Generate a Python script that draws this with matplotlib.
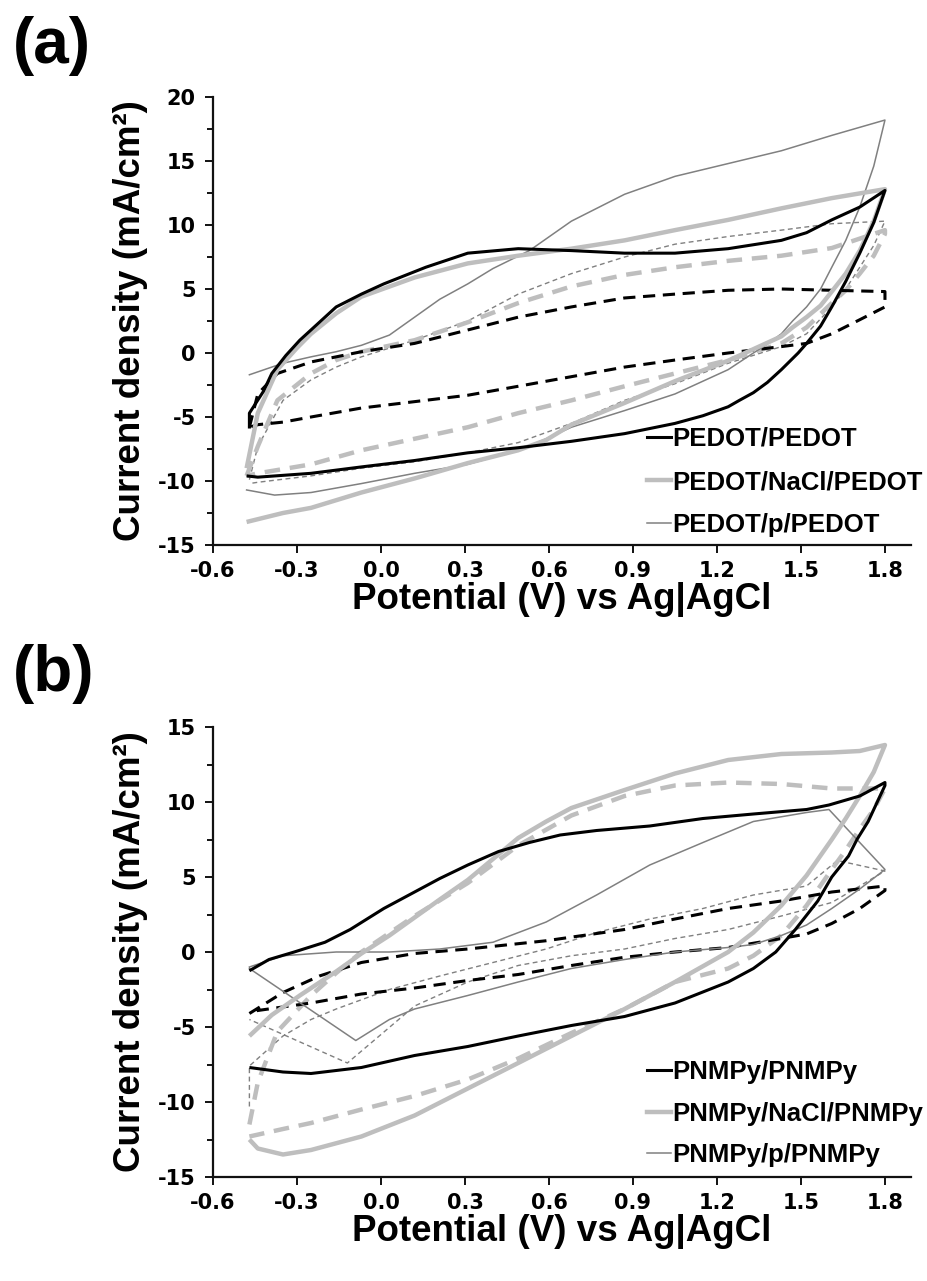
import matplotlib
matplotlib.use("Agg")
import matplotlib.pyplot as plt
from matplotlib.ticker import MultipleLocator, FixedLocator
from matplotlib.lines import Line2D

plt.rcParams['font.family'] = ['Liberation Sans', 'DejaVu Sans']
plt.rcParams['font.weight'] = 'bold'
plt.rcParams['axes.unicode_minus'] = False

# ---------------- Panel (a) data : PEDOT ----------------
a_pp_up_V = [-0.47, -0.47, -0.42, -0.39, -0.34, -0.29, -0.22, -0.16, -0.07, 0.01, 0.16, 0.31, 0.49, 0.68, 0.87, 1.05, 1.24, 1.43, 1.52, 1.61, 1.71, 1.80]
a_pp_up_I = [-5.9, -4.7, -3.0, -1.6, -0.2, 1.0, 2.4, 3.6, 4.6, 5.4, 6.7, 7.8, 8.15, 8.0, 7.8, 7.8, 8.15, 8.8, 9.4, 10.4, 11.4, 12.7]
a_pp_lo_V = [1.80, 1.76, 1.71, 1.66, 1.61, 1.57, 1.52, 1.49, 1.43, 1.38, 1.33, 1.28, 1.24, 1.15, 1.05, 0.87, 0.68, 0.49, 0.31, 0.12, -0.07, -0.25, -0.44, -0.48]
a_pp_lo_I = [12.7, 10.2, 7.8, 5.6, 3.6, 2.1, 0.75, 0.0, -1.3, -2.3, -3.1, -3.7, -4.2, -4.9, -5.5, -6.3, -6.9, -7.4, -7.8, -8.4, -8.9, -9.4, -9.7, -9.6]

a_ppd_up_V = [-0.47, -0.44, -0.37, -0.25, -0.07, 0.12, 0.31, 0.49, 0.68, 0.87, 1.05, 1.24, 1.43, 1.61, 1.80]
a_ppd_up_I = [-5.8, -3.2, -1.6, -0.7, 0.1, 0.75, 1.8, 2.8, 3.6, 4.3, 4.6, 4.9, 5.0, 4.9, 4.8]
a_ppd_lo_V = [1.80, 1.80, 1.71, 1.61, 1.52, 1.43, 1.24, 1.05, 0.87, 0.68, 0.49, 0.31, 0.12, -0.07, -0.25, -0.35, -0.44, -0.47]
a_ppd_lo_I = [4.8, 3.6, 2.6, 1.5, 0.75, 0.5, 0.0, -0.55, -1.1, -1.85, -2.6, -3.3, -3.8, -4.3, -5.0, -5.4, -5.6, -5.8]

a_na_up_V = [-0.48, -0.44, -0.37, -0.30, -0.25, -0.16, -0.07, 0.12, 0.31, 0.49, 0.68, 0.87, 1.05, 1.24, 1.43, 1.61, 1.80]
a_na_up_I = [-9.0, -4.7, -1.3, 0.4, 1.5, 3.1, 4.4, 5.9, 7.0, 7.6, 8.15, 8.8, 9.6, 10.4, 11.3, 12.1, 12.8]
a_na_lo_V = [1.80, 1.76, 1.71, 1.66, 1.61, 1.57, 1.52, 1.47, 1.43, 1.38, 1.33, 1.24, 1.05, 0.87, 0.68, 0.59, 0.49, 0.31, 0.12, -0.07, -0.16, -0.25, -0.35, -0.48]
a_na_lo_I = [12.8, 10.3, 8.0, 6.2, 4.8, 3.7, 2.8, 2.0, 1.3, 0.8, 0.3, -0.6, -2.2, -3.9, -5.6, -6.8, -7.6, -8.6, -9.8, -10.9, -11.5, -12.1, -12.5, -13.2]

a_nad_up_V = [-0.48, -0.44, -0.37, -0.25, -0.16, -0.07, 0.12, 0.31, 0.49, 0.68, 0.87, 1.05, 1.24, 1.43, 1.61, 1.80]
a_nad_up_I = [-9.6, -7.3, -3.7, -1.6, -0.55, 0.1, 1.0, 2.4, 3.9, 5.2, 6.1, 6.7, 7.2, 7.6, 8.2, 9.6]
a_nad_lo_V = [1.80, 1.76, 1.71, 1.66, 1.61, 1.52, 1.43, 1.24, 1.05, 0.87, 0.68, 0.49, 0.31, 0.12, -0.07, -0.25, -0.44, -0.48]
a_nad_lo_I = [9.3, 7.6, 6.2, 4.9, 3.9, 2.0, 0.75, -0.55, -1.6, -2.6, -3.7, -4.7, -5.8, -6.7, -7.6, -8.7, -9.4, -9.6]

a_p_up_V = [-0.47, -0.35, -0.25, -0.16, -0.07, 0.03, 0.12, 0.21, 0.31, 0.40, 0.53, 0.68, 0.87, 1.05, 1.24, 1.43, 1.61, 1.80]
a_p_up_I = [-1.7, -0.8, -0.3, 0.1, 0.6, 1.4, 2.8, 4.2, 5.4, 6.6, 8.0, 10.3, 12.4, 13.8, 14.8, 15.8, 17.0, 18.2]
a_p_lo_V = [1.80, 1.76, 1.71, 1.66, 1.61, 1.57, 1.52, 1.47, 1.43, 1.38, 1.33, 1.24, 1.05, 0.87, 0.68, 0.59, 0.49, 0.31, 0.12, -0.07, -0.25, -0.38, -0.48]
a_p_lo_I = [18.2, 14.6, 11.4, 8.8, 6.7, 5.0, 3.6, 2.5, 1.5, 0.7, 0.0, -1.3, -3.2, -4.5, -5.8, -6.7, -7.6, -8.7, -9.4, -10.2, -10.9, -11.1, -10.7]

a_pd_up_V = [-0.47, -0.44, -0.35, -0.25, -0.16, -0.07, 0.12, 0.31, 0.49, 0.68, 0.87, 1.05, 1.24, 1.43, 1.61, 1.80]
a_pd_up_I = [-9.9, -7.3, -3.7, -2.1, -1.1, -0.3, 1.0, 2.5, 4.6, 6.2, 7.5, 8.5, 9.1, 9.6, 10.1, 10.3]
a_pd_lo_V = [1.80, 1.76, 1.71, 1.66, 1.61, 1.52, 1.43, 1.24, 1.05, 0.87, 0.68, 0.49, 0.31, 0.12, -0.07, -0.25, -0.44, -0.47]
a_pd_lo_I = [10.3, 8.4, 6.7, 5.0, 3.6, 1.5, 0.5, -0.8, -2.4, -3.7, -5.5, -7.0, -7.8, -8.5, -9.0, -9.6, -10.1, -10.2]

# ---------------- Panel (b) data : PNMPy ----------------
b_pp_up_V = [-0.47, -0.40, -0.31, -0.20, -0.11, 0.01, 0.12, 0.21, 0.31, 0.42, 0.53, 0.64, 0.77, 0.96, 1.15, 1.33, 1.52, 1.60, 1.71, 1.80]
b_pp_up_I = [-1.25, -0.5, 0.0, 0.65, 1.5, 2.9, 4.0, 4.9, 5.8, 6.7, 7.3, 7.8, 8.1, 8.4, 8.9, 9.2, 9.5, 9.8, 10.4, 11.3]
b_pp_lo_V = [1.80, 1.77, 1.74, 1.70, 1.67, 1.61, 1.56, 1.48, 1.41, 1.33, 1.24, 1.05, 0.87, 0.68, 0.49, 0.31, 0.12, -0.07, -0.25, -0.35, -0.47]
b_pp_lo_I = [11.1, 9.9, 8.7, 7.5, 6.4, 5.0, 3.4, 1.5, 0.0, -1.1, -2.0, -3.4, -4.3, -4.9, -5.6, -6.3, -6.9, -7.7, -8.1, -8.0, -7.7]

b_ppd_up_V = [-0.47, -0.35, -0.22, -0.07, 0.12, 0.31, 0.59, 0.87, 1.05, 1.24, 1.43, 1.61, 1.80]
b_ppd_up_I = [-4.1, -2.7, -1.6, -0.7, -0.1, 0.2, 0.75, 1.5, 2.2, 2.9, 3.4, 4.0, 4.4]
b_ppd_lo_V = [1.80, 1.71, 1.61, 1.52, 1.43, 1.24, 1.05, 0.87, 0.68, 0.49, 0.31, 0.12, -0.07, -0.25, -0.44, -0.47]
b_ppd_lo_I = [4.1, 2.9, 1.9, 1.2, 0.9, 0.3, 0.0, -0.35, -0.9, -1.5, -1.9, -2.4, -2.8, -3.4, -3.9, -4.0]

b_na_up_V = [-0.47, -0.39, -0.29, -0.16, -0.07, 0.03, 0.12, 0.21, 0.31, 0.40, 0.49, 0.59, 0.68, 0.87, 1.05, 1.24, 1.43, 1.61, 1.71, 1.80]
b_na_up_I = [-5.6, -4.2, -2.9, -1.3, -0.1, 1.1, 2.3, 3.5, 4.8, 6.2, 7.6, 8.7, 9.6, 10.8, 11.9, 12.8, 13.2, 13.3, 13.4, 13.8]
b_na_lo_V = [1.80, 1.76, 1.71, 1.66, 1.61, 1.52, 1.43, 1.33, 1.24, 1.05, 0.87, 0.68, 0.49, 0.31, 0.12, -0.07, -0.25, -0.35, -0.44, -0.47]
b_na_lo_I = [13.8, 12.0, 10.4, 8.9, 7.5, 5.1, 3.1, 1.3, 0.0, -2.0, -3.8, -5.6, -7.4, -9.1, -10.9, -12.3, -13.2, -13.5, -13.1, -12.5]

b_nad_up_V = [-0.47, -0.44, -0.37, -0.25, -0.16, -0.07, 0.12, 0.31, 0.49, 0.68, 0.87, 1.05, 1.24, 1.43, 1.61, 1.80]
b_nad_up_I = [-11.5, -8.7, -5.3, -2.9, -1.4, 0.0, 2.4, 4.6, 7.1, 9.1, 10.4, 11.1, 11.3, 11.2, 10.9, 10.9]
b_nad_lo_V = [1.80, 1.76, 1.71, 1.66, 1.61, 1.52, 1.43, 1.33, 1.24, 1.05, 0.87, 0.68, 0.49, 0.31, 0.12, -0.07, -0.25, -0.35, -0.47]
b_nad_lo_I = [10.9, 9.5, 8.2, 6.8, 5.5, 3.1, 1.1, -0.25, -1.1, -2.0, -3.8, -5.4, -7.1, -8.5, -9.6, -10.5, -11.4, -11.8, -12.3]

b_p_up_V = [-0.47, -0.35, -0.16, 0.03, 0.21, 0.40, 0.59, 0.77, 0.96, 1.15, 1.33, 1.52, 1.60, 1.80]
b_p_up_I = [-1.0, -0.25, 0.0, 0.0, 0.2, 0.65, 2.0, 3.8, 5.8, 7.3, 8.7, 9.3, 9.5, 5.5]
b_p_lo_V = [1.80, 1.71, 1.61, 1.52, 1.43, 1.33, 1.24, 1.05, 0.87, 0.68, 0.49, 0.31, 0.12, 0.03, -0.09, -0.47]
b_p_lo_I = [5.5, 4.2, 2.9, 1.8, 1.1, 0.5, 0.3, 0.0, -0.5, -1.1, -2.0, -2.9, -3.8, -4.5, -5.9, -1.1]

b_pd_up_V = [-0.47, -0.47, -0.35, -0.25, -0.16, 0.03, 0.21, 0.40, 0.59, 0.77, 0.96, 1.15, 1.33, 1.52, 1.63, 1.80]
b_pd_up_I = [-10.3, -7.6, -5.6, -4.5, -3.8, -2.5, -1.6, -0.7, 0.2, 1.3, 2.2, 2.9, 3.8, 4.4, 6.1, 5.4]
b_pd_lo_V = [1.80, 1.71, 1.61, 1.43, 1.24, 1.05, 0.87, 0.68, 0.49, 0.31, 0.12, -0.12, -0.47]
b_pd_lo_I = [5.4, 4.4, 3.3, 2.4, 1.5, 0.9, 0.2, -0.25, -0.9, -2.0, -3.6, -7.4, -4.5]

x_ticks = [-0.6, -0.3, 0.0, 0.3, 0.6, 0.9, 1.2, 1.5, 1.8]
a_yticks = [-15, -10, -5, 0, 5, 10, 15, 20]
b_yticks = [-15, -10, -5, 0, 5, 10, 15]
a_labels = ['PEDOT/PEDOT', 'PEDOT/NaCl/PEDOT', 'PEDOT/p/PEDOT']
b_labels = ['PNMPy/PNMPy', 'PNMPy/NaCl/PNMPy', 'PNMPy/p/PNMPy']

# ---------------- styles ----------------
BLACK = '#000000'
LGRAY = '#BEBEBE'
MGRAY = '#808080'
sty_pp = dict(color=BLACK, lw=2.2, solid_capstyle='butt')
sty_ppd = dict(color=BLACK, lw=2.2, linestyle=(0, (4.0, 2.5)))
sty_na = dict(color=LGRAY, lw=3.2, solid_capstyle='butt')
sty_nad = dict(color=LGRAY, lw=3.2, linestyle=(0, (3.5, 2.2)))
sty_p = dict(color=MGRAY, lw=1.1)
sty_pd = dict(color=MGRAY, lw=1.0, linestyle=(0, (3.5, 2.5)))

fig = plt.figure(figsize=(9.27, 12.81), dpi=100)
W, H = 927.0, 1281.0


def make_axes(top_px, bot_px):
    left = 213 / W
    right = 911 / W
    return fig.add_axes([left, 1 - bot_px / H, right - left, (bot_px - top_px) / H])


def style_axes(ax, ylim, yticks):
    ax.set_xlim(-0.6, 1.893)
    ax.set_ylim(*ylim)
    for s in ['top', 'right']:
        ax.spines[s].set_visible(False)
    for s in ['left', 'bottom']:
        ax.spines[s].set_linewidth(1.6)
        ax.spines[s].set_color('#111111')
    ax.xaxis.set_major_locator(FixedLocator(x_ticks))
    ax.set_xticklabels(['%.1f' % v for v in x_ticks])
    ax.yaxis.set_major_locator(FixedLocator(yticks))
    ax.set_yticklabels(['%d' % v for v in yticks])
    ax.yaxis.set_minor_locator(MultipleLocator(2.5))
    ax.tick_params(axis='y', which='major', direction='out', length=5.5, width=1.4,
                   labelsize=15, pad=7, color='#111111')
    ax.tick_params(axis='y', which='minor', direction='out', length=4, width=1.4, color='#111111')
    ax.tick_params(axis='x', which='major', direction='out', length=5.5, width=1.4,
                   labelsize=15, pad=6, color='#111111')
    for lab in ax.get_xticklabels() + ax.get_yticklabels():
        lab.set_fontweight('bold')
        lab.set_family(['DejaVu Sans'])
    ax.set_xlabel('Potential (V) vs Ag|AgCl', fontsize=26.5, fontweight='bold', labelpad=1)
    ax.set_ylabel('Current density (mA/cm²)', fontsize=26.5, fontweight='bold', labelpad=7)


def draw(ax, upV, upI, loV, loI, sty):
    ax.plot(upV + loV, upI + loI, **sty)


# Panel (a)
axa = make_axes(97, 545)
draw(axa, a_pd_up_V, a_pd_up_I, a_pd_lo_V, a_pd_lo_I, sty_pd)
draw(axa, a_nad_up_V, a_nad_up_I, a_nad_lo_V, a_nad_lo_I, sty_nad)
draw(axa, a_ppd_up_V, a_ppd_up_I, a_ppd_lo_V, a_ppd_lo_I, sty_ppd)
draw(axa, a_p_up_V, a_p_up_I, a_p_lo_V, a_p_lo_I, sty_p)
draw(axa, a_na_up_V, a_na_up_I, a_na_lo_V, a_na_lo_I, sty_na)
draw(axa, a_pp_up_V, a_pp_up_I, a_pp_lo_V, a_pp_lo_I, sty_pp)
style_axes(axa, (-15, 20), a_yticks)

# Panel (b)
axb = make_axes(727, 1177)
draw(axb, b_pd_up_V, b_pd_up_I, b_pd_lo_V, b_pd_lo_I, sty_pd)
draw(axb, b_nad_up_V, b_nad_up_I, b_nad_lo_V, b_nad_lo_I, sty_nad)
draw(axb, b_ppd_up_V, b_ppd_up_I, b_ppd_lo_V, b_ppd_lo_I, sty_ppd)
draw(axb, b_p_up_V, b_p_up_I, b_p_lo_V, b_p_lo_I, sty_p)
draw(axb, b_na_up_V, b_na_up_I, b_na_lo_V, b_na_lo_I, sty_na)
draw(axb, b_pp_up_V, b_pp_up_I, b_pp_lo_V, b_pp_lo_I, sty_pp)
style_axes(axb, (-15, 15), b_yticks)

handles = [Line2D([], [], color=BLACK, lw=2.2),
           Line2D([], [], color=LGRAY, lw=3.2),
           Line2D([], [], color=MGRAY, lw=1.1)]
leg_kw = dict(loc='upper left', bbox_transform=fig.transFigure, frameon=False,
              borderpad=0, borderaxespad=0, handlelength=0.95, handletextpad=0.05,
              prop=dict(weight='bold', size=18.5))
axa.legend(handles, a_labels, bbox_to_anchor=(647 / W, 1 - 427 / H), labelspacing=0.74, **leg_kw)
axb.legend(handles, b_labels, bbox_to_anchor=(647 / W, 1 - 1060 / H), labelspacing=0.69, **leg_kw)

fig.text(13 / W, 1 - 63 / H, '(a)', fontsize=46, fontweight='bold', ha='left', va='baseline')
fig.text(13 / W, 1 - 691 / H, '(b)', fontsize=46, fontweight='bold', ha='left', va='baseline')

fig.savefig('out.png', dpi=100, facecolor='white')
